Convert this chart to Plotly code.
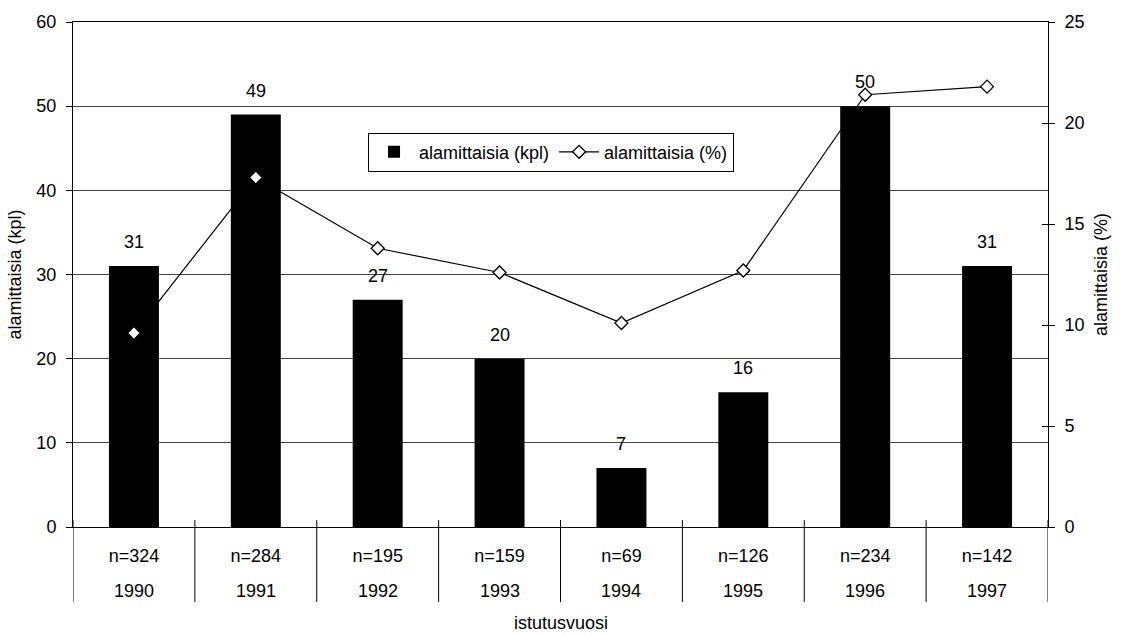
import plotly.graph_objects as go

years = ["1990", "1991", "1992", "1993", "1994", "1995", "1996", "1997"]
n_labels = ["n=324", "n=284", "n=195", "n=159", "n=69", "n=126", "n=234", "n=142"]
kpl = [31, 49, 27, 20, 7, 16, 50, 31]
pct = [9.6, 17.3, 13.8, 12.6, 10.1, 12.7, 21.4, 21.8]

FONT = "Liberation Sans, Arial, sans-serif"
FS = 18
xs = list(range(len(years)))

fig = go.Figure()
fig.add_trace(go.Bar(
    x=xs, y=kpl, name="alamittaisia (kpl)", width=0.41,
    marker=dict(color="black", line=dict(width=0)),
    yaxis="y",
))
fig.add_trace(go.Scatter(
    x=xs, y=pct, name="alamittaisia (%)", mode="lines+markers",
    line=dict(color="black", width=1.2),
    marker=dict(symbol="diamond", size=10, color="white",
                line=dict(color="black", width=1.3)),
    yaxis="y2",
))

annotations = []
for i, v in enumerate(kpl):
    annotations.append(dict(x=i, y=v, xref="x", yref="y", text=str(v),
                            showarrow=False, yanchor="bottom", yshift=12,
                            font=dict(family=FONT, size=FS, color="black")))
for i, yr in enumerate(years):
    annotations.append(dict(x=i, y=-0.127, xref="x", yref="paper", text=yr,
                            showarrow=False, yanchor="middle",
                            font=dict(family=FONT, size=FS, color="black")))
annotations.append(dict(x=0.5, y=-0.19, xref="paper", yref="paper",
                        text="istutusvuosi", showarrow=False, yanchor="middle",
                        font=dict(family=FONT, size=FS, color="black")))

shapes = []
for i in range(len(years) + 1):
    shapes.append(dict(type="line", xref="x", yref="paper",
                       x0=i - 0.5, x1=i - 0.5, y0=0.0137, y1=-0.1484,
                       line=dict(color="black", width=1)))

fig.update_layout(
    width=1125, height=635,
    margin=dict(l=73, r=77, t=15, b=108),
    paper_bgcolor="white", plot_bgcolor="white",
    font=dict(family=FONT, size=FS, color="black"),
    showlegend=True,
    legend=dict(orientation="h", x=0.3026, xanchor="left", y=0.781, yanchor="top",
                bordercolor="black", borderwidth=1, bgcolor="white",
                itemwidth=40,
                font=dict(family=FONT, size=FS, color="black"),
                traceorder="normal"),
    xaxis=dict(range=[-0.5, 7.5], tickvals=xs, ticktext=n_labels, ticks="",
               showline=True, mirror=True, linecolor="black", linewidth=1,
               showgrid=False, zeroline=False, ticklabelstandoff=12,
               tickfont=dict(family=FONT, size=FS, color="black")),
    yaxis=dict(range=[0, 60], dtick=10, ticks="outside", ticklen=6, tickcolor="black",
               showline=True, linecolor="black", linewidth=1,
               showgrid=True, gridcolor="#444444", gridwidth=1, zeroline=False,
               ticklabelstandoff=6,
               title=dict(text="alamittaisia (kpl)", standoff=10,
                          font=dict(family=FONT, size=FS, color="black")),
               tickfont=dict(family=FONT, size=FS, color="black")),
    yaxis2=dict(range=[0, 25], dtick=5, overlaying="y", side="right",
                ticks="outside", ticklen=6, tickcolor="black",
                showline=True, linecolor="black", linewidth=1,
                showgrid=False, zeroline=False, ticklabelstandoff=6,
                title=dict(text="alamittaisia (%)", standoff=10,
                           font=dict(family=FONT, size=FS, color="black")),
                tickfont=dict(family=FONT, size=FS, color="black")),
    yaxis3=dict(range=[0, 25], dtick=5, overlaying="y", side="right",
                ticks="inside", ticklen=6, tickcolor="black",
                showticklabels=False, showline=False, showgrid=False, zeroline=False),
    annotations=annotations,
    shapes=shapes,
)
fig.add_trace(go.Scatter(x=[0], y=[0], yaxis="y3", mode="markers",
                         marker=dict(opacity=0), showlegend=False, hoverinfo="skip"))

fig.write_html("out.html", config={"displayModeBar": False},
               post_script="document.body.style.margin='0';document.body.style.padding='0';document.body.style.overflow='hidden';")
